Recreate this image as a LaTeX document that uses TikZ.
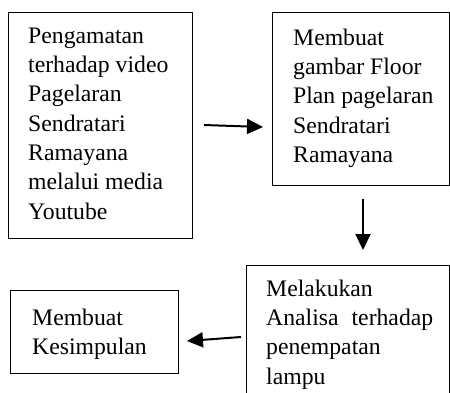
\documentclass[tikz,border=0pt]{standalone}
\usepackage{fontspec}
\setmainfont{Liberation Serif}
\usetikzlibrary{arrows.meta,calc}
\begin{document}
\begin{tikzpicture}[x=1pt,y=-1pt,
  box/.style={draw=black,line width=1pt,inner sep=0pt,anchor=north west},
  txt/.style={anchor=north west,inner sep=0pt,align=left,
    font=\fontsize{23.7pt}{29.3pt}\selectfont},
  flow/.style={line width=2pt,-{Triangle[length=16pt,width=15pt]}}]
\useasboundingbox (0,0) rectangle (450,392);
\clip (0,0) rectangle (450,392);
\node[box,minimum width=184pt,minimum height=226pt] (b1) at (8,12) {};
\node[box,minimum width=177pt,minimum height=173pt] (b2) at (272,12) {};
\node[box,minimum width=203pt,minimum height=150pt] (b3) at (246,265) {};
\node[box,minimum width=168pt,minimum height=83pt] (b4) at (10,290) {};
\node[txt] (t1) at (28,22.5) {\strut Pengamatan\\terhadap video\\Pagelaran\\Sendratari\\Ramayana\\melalui media\\Youtube};
\node[txt] (t2) at (293,24.5) {\strut Membuat\\gambar Floor\\Plan pagelaran\\Sendratari\\Ramayana};
\node[txt] (t3) at (266,275.5) {\strut Melakukan\\Analisa\hskip 0.55em terhadap\\penempatan\\lampu};
\node[txt] (t4) at (32,304.5) {\strut Membuat\\Kesimpulan};
\draw[flow] ($(b1.north east)+(11,113)$) -- ($(b2.north west)+(-9,115)$);
\draw[flow] ($(b2.south west)+(91,13)$) -- ($(b3.north west)+(117,-15)$);
\draw[flow] ($(b3.north west)+(-5,72)$) -- ($(b4.north east)+(8,51)$);
\end{tikzpicture}
\end{document}
